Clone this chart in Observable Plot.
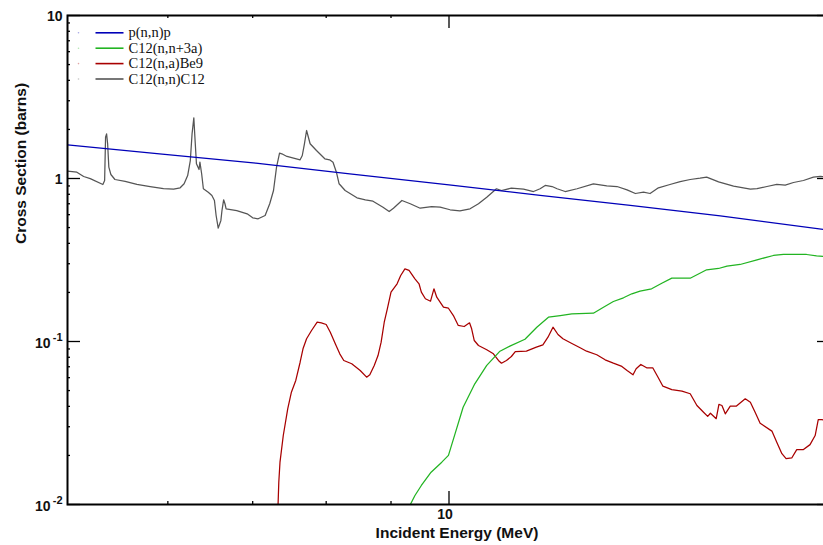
<!DOCTYPE html>
<html><head><meta charset="utf-8">
<script src="https://cdn.jsdelivr.net/npm/d3@7"></script>
<script src="https://cdn.jsdelivr.net/npm/@observablehq/plot@0.6"></script>
<style>
html,body{margin:0;padding:0;background:#fff;overflow:hidden;}
#chart svg{overflow:hidden;display:block;}
</style></head><body><div id="chart"></div>
<script>
// p(n,n)p
const npE = [5.0, 5.91, 7.04, 8.35, 10.0, 11.8, 13.9, 16.37, 20.0];
const npXS = [1.609, 1.417, 1.241, 1.066, 0.915, 0.787, 0.683, 0.589, 0.48];
// C12(n,n+3a)
const n3aE = [9.316,9.40,9.51,9.68,9.87,9.99,10.11,10.26,10.48,10.71,10.97,11.17,11.48,11.73,11.98,12.24,12.50,13.0,13.24,13.48,13.73,13.94,14.15,14.45,14.72,14.99,15.50,15.97,16.32,16.57,16.97,17.50,18.03,18.36,19.15,19.5,20.0];
const n3aXS = [0.0099,0.01136,0.01308,0.01578,0.01818,0.02,0.0271,0.0395,0.055,0.0713,0.0872,0.0936,0.1033,0.1224,0.141,0.1443,0.1479,0.1492,0.1623,0.176,0.1854,0.1962,0.2035,0.2105,0.2278,0.2446,0.2446,0.2754,0.2805,0.2897,0.2968,0.3171,0.337,0.3418,0.3418,0.3356,0.33];
// C12(n,a)Be9
const naE = [7.33,7.34,7.356,7.40,7.46,7.51,7.57,7.63,7.67,7.72,7.79,7.87,7.93,8.0,8.06,8.14,8.20,8.26,8.38,8.51,8.61,8.66,8.73,8.79,8.84,8.89,8.94,9.0,9.10,9.16,9.23,9.30,9.40,9.47,9.51,9.58,9.67,9.73,9.78,9.90,9.99,10.08,10.17,10.28,10.38,10.42,10.47,10.55,10.71,10.84,10.94,11.0,11.10,11.20,11.28,11.51,11.72,11.86,11.97,12.08,12.19,12.30,12.49,12.69,12.84,13.08,13.28,13.48,13.69,13.82,13.97,14.05,14.17,14.32,14.48,14.62,14.75,14.99,15.27,15.50,15.69,15.88,16.0,16.08,16.25,16.33,16.42,16.52,16.67,16.85,17.13,17.29,17.44,17.60,17.98,18.14,18.31,18.45,18.64,18.81,19.03,19.27,19.45,19.56,19.69,20.0];
const naXS = [0.0099,0.0137,0.01818,0.0265,0.03866,0.04887,0.0577,0.0746,0.0902,0.1039,0.1168,0.1313,0.1302,0.1271,0.114,0.0954,0.084,0.0765,0.073,0.0664,0.0604,0.0625,0.0713,0.082,0.099,0.1313,0.1587,0.2007,0.226,0.254,0.279,0.273,0.2425,0.226,0.2007,0.1828,0.1767,0.2105,0.187,0.1623,0.16,0.1443,0.1254,0.1236,0.1302,0.1197,0.1014,0.0945,0.089,0.084,0.0765,0.0736,0.0765,0.0809,0.0868,0.0872,0.0923,0.0954,0.1063,0.1224,0.1104,0.1039,0.0976,0.0915,0.0872,0.0829,0.0772,0.0736,0.0703,0.0664,0.0625,0.068,0.0723,0.069,0.069,0.0604,0.0532,0.0507,0.0496,0.0478,0.0405,0.0368,0.0347,0.0363,0.0336,0.0411,0.0405,0.036,0.0401,0.0401,0.0445,0.0424,0.0368,0.0315,0.0282,0.0241,0.0205,0.0191,0.0193,0.0217,0.0217,0.0233,0.0265,0.0332,0.0332,0.032];
// C12(n,n)C12
const nnE = [5.0,5.086,5.149,5.211,5.332,5.349,5.358,5.368,5.378,5.39,5.41,5.45,5.552,5.672,5.81,5.953,6.063,6.136,6.18,6.22,6.25,6.27,6.29,6.30,6.32,6.35,6.36,6.38,6.40,6.457,6.50,6.53,6.55,6.575,6.607,6.62,6.64,6.656,6.67,6.80,6.93,7.0,7.07,7.16,7.22,7.27,7.31,7.35,7.38,7.45,7.63,7.66,7.69,7.72,7.77,7.86,7.98,8.05,8.10,8.15,8.19,8.28,8.46,8.59,8.71,8.87,8.97,9.04,9.18,9.32,9.49,9.69,9.84,10.02,10.2,10.39,10.55,10.71,10.9,11.0,11.2,11.45,11.66,11.8,11.91,12.06,12.17,12.35,12.62,13.0,13.32,13.57,13.82,14.03,14.24,14.41,14.63,14.94,15.22,15.5,15.78,15.97,16.32,16.77,17.29,17.5,17.82,18.14,18.42,18.7,19.04,19.39,19.63,20.0];
const nnXS = [1.109,1.093,1.029,0.998,0.919,0.972,1.792,1.88,1.64,1.173,1.058,0.986,0.959,0.919,0.893,0.868,0.86,0.877,0.928,1.043,1.289,1.88,2.357,1.88,1.231,1.135,1.259,1.069,0.865,0.824,0.787,0.733,0.593,0.496,0.553,0.636,0.74,0.70,0.652,0.636,0.607,0.574,0.566,0.593,0.70,0.844,1.173,1.43,1.418,1.365,1.302,1.384,1.633,1.97,1.633,1.485,1.321,1.302,1.259,1.093,0.928,0.844,0.761,0.74,0.726,0.667,0.627,0.657,0.733,0.70,0.657,0.673,0.667,0.643,0.632,0.652,0.70,0.768,0.865,0.844,0.872,0.86,0.832,0.865,0.906,0.893,0.865,0.832,0.865,0.928,0.902,0.893,0.852,0.809,0.824,0.809,0.877,0.919,0.958,0.986,1.004,1.019,0.954,0.897,0.86,0.868,0.893,0.919,0.91,0.945,0.972,1.019,1.029,1.02];

const seriesNames = ["p(n,n)p", "C12(n,n+3a)", "C12(n,a)Be9", "C12(n,n)C12"];
const seriesColors = ["#0000b8", "#22b422", "#a80000", "#555555"];
const yMajorTicks = [0.01, 0.1, 1, 10];
const yMinorTicks = [0.02,0.03,0.04,0.05,0.06,0.07,0.08,0.09,0.2,0.3,0.4,0.5,0.6,0.7,0.8,0.9,2,3,4,5,6,7,8,9];
const xMajorTicks = [10];
const xMinorTicks = [6, 7, 8, 9];
const yPlainLabels = [{v: 10, t: "10"}, {v: 1, t: "1"}];
const yExpLabels = [{v: 0.1, e: "-1"}, {v: 0.01, e: "-2"}];

const toRows = (E, XS, name) => E.map((e, i) => ({E: e, xs: XS[i], name}));
const seriesData = [
  toRows(npE, npXS, seriesNames[0]),
  toRows(n3aE, n3aXS, seriesNames[1]),
  toRows(naE, naXS, seriesNames[2]),
  toRows(nnE, nnXS, seriesNames[3])
];

const W = 823, H = 545, mL = 67, mR = -7, mT = 15, mB = 41;
const iW = W - mL - mR, iH = H - mT - mB;
const font = "'Liberation Sans', Arial, Helvetica, sans-serif";
const serif = "'Liberation Serif', 'Times New Roman', serif";
const lineSymbol = {draw(ctx, size) { const r = Math.sqrt(size / Math.PI); ctx.moveTo(-r, 0); ctx.lineTo(r, 0); }};

const marks = [];
[3, 2, 1, 0].forEach(i => {
  marks.push(Plot.line(seriesData[i], {x: "E", y: "xs", stroke: seriesColors[i], strokeWidth: 1.25, clip: true}));
});
const tk = {stroke: "black", strokeWidth: 1.3};
marks.push(Plot.tickY(yMajorTicks, {y: d => d, insetRight: iW - 13, ...tk}));
marks.push(Plot.tickY(yMajorTicks, {y: d => d, insetLeft: iW - 13, ...tk}));
marks.push(Plot.tickY(yMinorTicks, {y: d => d, insetRight: iW - 3, ...tk}));
marks.push(Plot.tickY(yMinorTicks, {y: d => d, insetLeft: iW - 3, ...tk}));
marks.push(Plot.tickX(xMajorTicks, {x: d => d, insetTop: iH - 13, ...tk}));
marks.push(Plot.tickX(xMajorTicks, {x: d => d, insetBottom: iH - 13, ...tk}));
marks.push(Plot.tickX(xMinorTicks, {x: d => d, insetTop: iH - 3, ...tk}));
marks.push(Plot.tickX(xMinorTicks, {x: d => d, insetBottom: iH - 3, ...tk}));
marks.push(Plot.frame({stroke: "black", strokeWidth: 2}));
const lab = {fontFamily: font, fontWeight: "bold", fill: "#111", lineAnchor: "middle"};
marks.push(Plot.text(yPlainLabels, {y: "v", text: "t", frameAnchor: "left", textAnchor: "end", dx: -5, dy: 1, fontSize: 14, ...lab}));
marks.push(Plot.text(yExpLabels, {y: "v", text: () => "10", frameAnchor: "left", textAnchor: "end", dx: -17, dy: 2, fontSize: 14, ...lab}));
marks.push(Plot.text(yExpLabels, {y: "v", text: "e", frameAnchor: "left", textAnchor: "end", dx: -5, dy: -4, fontSize: 11, ...lab}));
marks.push(Plot.text(xMajorTicks, {x: d => d, text: d => String(d), frameAnchor: "bottom", dx: -4, dy: 10, fontSize: 14, ...lab}));
marks.push(Plot.text(["Incident Energy (MeV)"], {text: d => d, frameAnchor: "bottom", dx: 8, dy: 29, fontSize: 15.5, ...lab}));
marks.push(Plot.text(["Cross Section (barns)"], {text: d => d, frameAnchor: "left", rotate: -90, dx: -46, dy: -16, fontSize: 15.5, ...lab}));
seriesNames.forEach((name, i) => {
  const dy = 17.3 + i * 15.4;
  marks.push(Plot.dot([name], {frameAnchor: "top-left", dx: 11, dy, r: 0.8, fill: seriesColors[i], fillOpacity: 0.35, stroke: "none"}));
  marks.push(Plot.dot([name], {frameAnchor: "top-left", dx: 42, dy, r: 14, symbol: lineSymbol, stroke: seriesColors[i], strokeWidth: 1.6, fill: "none"}));
  marks.push(Plot.text([name], {text: d => d, frameAnchor: "top-left", dx: 61, dy, textAnchor: "start", lineAnchor: "middle", fontFamily: serif, fontSize: 14.5, fill: "#111"}));
});

const chart = Plot.plot({
  width: W, height: H,
  marginLeft: mL, marginRight: mR, marginTop: mT, marginBottom: mB,
  x: {type: "log", domain: [5, 20], axis: null},
  y: {type: "log", domain: [0.01, 10], axis: null},
  style: {fontFamily: font, background: "white", overflow: "hidden"},
  marks
});
document.getElementById("chart").appendChild(chart);
</script></body></html>
